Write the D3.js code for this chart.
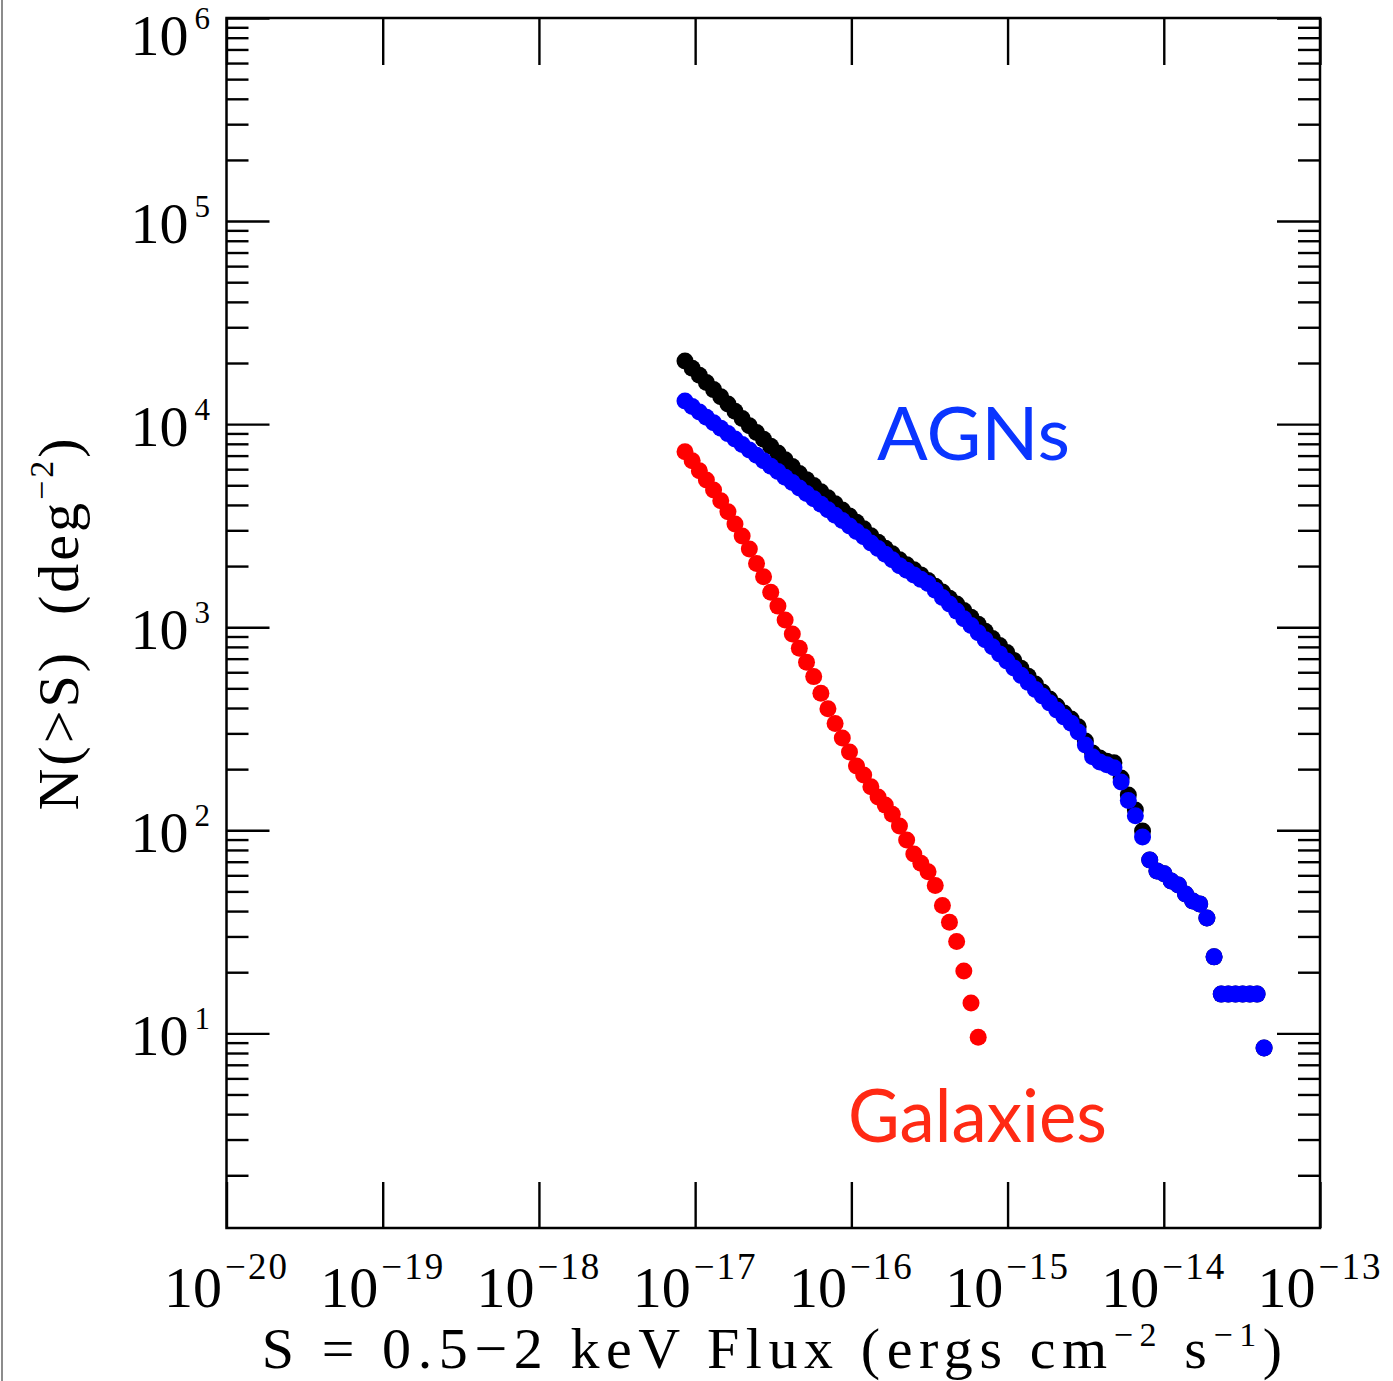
<!DOCTYPE html>
<html>
<head>
<meta charset="utf-8">
<script src="https://cdn.jsdelivr.net/npm/d3@7"></script>
<style>
  body { margin: 0; background: #fff; }
  svg { display: block; }
</style>
</head>
<body>
<div id="container"></div>
<script>
/* CONSTANTS AND GLOBALS */
const width = 1393,
      height = 1381,
      margin = {top: 18, bottom: 153, left: 226.5, right: 73},
      radius = 8.5;

const serif = "'Liberation Serif', 'Times New Roman', serif";
const sans = "Lato, 'Open Sans', sans-serif";

/* DATA */
// log10 of the 0.5-2 keV flux for each point
const logFlux = [
  -17.065, -17.019, -16.973, -16.928, -16.882, -16.836, -16.790, -16.745, -16.699, -16.653,
  -16.607, -16.562, -16.516, -16.470, -16.424, -16.378, -16.333, -16.287, -16.241, -16.195,
  -16.150, -16.104, -16.058, -16.012, -15.967, -15.921, -15.875, -15.829, -15.783, -15.738,
  -15.692, -15.646, -15.600, -15.555, -15.509, -15.463, -15.417, -15.372, -15.326, -15.280,
  -15.234, -15.188, -15.143, -15.097, -15.051, -15.005, -14.960, -14.914, -14.868, -14.822,
  -14.777, -14.731, -14.685, -14.639, -14.593, -14.548, -14.502, -14.456, -14.410, -14.365,
  -14.319, -14.273, -14.227, -14.182, -14.136, -14.090, -14.044, -13.998, -13.953, -13.907,
  -13.861, -13.815, -13.770, -13.724, -13.678, -13.632, -13.587, -13.541, -13.495, -13.449,
  -13.403, -13.358
];

// N(>S), all sources (black)
const totalN = [
  20450, 18850, 17390, 16030, 14790, 13640, 12560, 11570, 10660, 9810,
  9090, 8420, 7790, 7210, 6670, 6180, 5720, 5330, 4980, 4650,
  4340, 4050, 3780, 3530, 3290, 3050, 2820, 2620, 2450, 2300,
  2150, 2030, 1920, 1810, 1700, 1590, 1490, 1390, 1300, 1210,
  1120, 1035, 955, 880, 812, 750, 686, 628, 574, 525,
  480, 443, 409, 378, 353, 323, 275, 240, 227, 219,
  215, 181, 149, 126, 99.2, 71.4, 63.1, 61.0, 56.3, 53.8,
  48.6, 44.9, 43.4, 37.0, 23.8, 15.6, 15.6, 15.6, 15.6, 15.6,
  15.6, 8.47
];

// N(>S), AGNs (blue)
const agnN = [
  13000, 12220, 11490, 10800, 10160, 9550, 8980, 8450, 7940, 7460,
  7020, 6600, 6200, 5840, 5480, 5160, 4850, 4560, 4290, 4030,
  3790, 3560, 3350, 3150, 2960, 2790, 2600, 2440, 2290, 2150,
  2010, 1910, 1810, 1720, 1640, 1520, 1400, 1300, 1200, 1100,
  1020, 940, 867, 801, 739, 682, 629, 580, 535, 494,
  458, 424, 391, 361, 337, 305, 263, 230, 217, 210,
  203, 173, 140, 118, 92.7, 71.4, 63.1, 61.0, 56.3, 53.8,
  48.6, 44.9, 43.4, 37.0, 23.8, 15.6, 15.6, 15.6, 15.6, 15.6,
  15.6, 8.47
];

// N(>S), galaxies (red) - first 42 flux bins
const galaxyN = [
  7315, 6600, 5900, 5310, 4740, 4200, 3700, 3220, 2810, 2430,
  2060, 1770, 1485, 1270, 1085, 926, 787, 672, 571, 473,
  397, 336, 285, 243, 207, 187, 164, 146, 133, 120,
  105, 89.6, 76.4, 68.8, 62.5, 53.4, 42.6, 35.2, 28.3, 20.3,
  14.1, 9.57
];

const xTickExp = [-20, -19, -18, -17, -16, -15, -14, -13];
const yTickExp = [1, 2, 3, 4, 5, 6];

/* SCALES */
const xScale = d3.scaleLog()
  .domain([1e-20, 1e-13])
  .range([margin.left, width - margin.right]);

const yScale = d3.scaleLog()
  .domain([1.1, 1e6])
  .range([height - margin.bottom, margin.top]);

const xMajor = xTickExp.map(e => Math.pow(10, e));
const yMajor = yTickExp.map(e => Math.pow(10, e));
const yMinor = yScale.ticks().filter(t => {
  const l = Math.log10(t);
  return Math.abs(l - Math.round(l)) > 1e-6;
});

/* SVG */
const svg = d3.select("#container")
  .append("svg")
  .attr("width", width)
  .attr("height", height);

svg.append("rect")
  .attr("width", width)
  .attr("height", height)
  .attr("fill", "#fff");

// slide edge on the left
svg.append("line")
  .attr("x1", 2).attr("x2", 2)
  .attr("y1", 0).attr("y2", height)
  .attr("stroke", "#8c8c8c")
  .attr("stroke-width", 2);

/* AXES (ticks point inward) */
function styleAxis(g) {
  g.select(".domain").remove();
  g.selectAll("line").attr("stroke", "#000").attr("stroke-width", 2.4);
  g.selectAll("text").remove();
}

const xB = height - margin.bottom;
const xR = width - margin.right;

svg.append("g").attr("transform", `translate(0,${xB})`)
  .call(d3.axisBottom(xScale).tickValues(xMajor).tickSize(-46).tickFormat(""))
  .call(styleAxis);
svg.append("g").attr("transform", `translate(0,${margin.top})`)
  .call(d3.axisTop(xScale).tickValues(xMajor).tickSize(-47).tickFormat(""))
  .call(styleAxis);

svg.append("g").attr("transform", `translate(${margin.left},0)`)
  .call(d3.axisLeft(yScale).tickValues(yMajor).tickSize(-43).tickFormat(""))
  .call(styleAxis);
svg.append("g").attr("transform", `translate(${margin.left},0)`)
  .call(d3.axisLeft(yScale).tickValues(yMinor).tickSize(-22).tickFormat(""))
  .call(styleAxis);
svg.append("g").attr("transform", `translate(${xR},0)`)
  .call(d3.axisRight(yScale).tickValues(yMajor).tickSize(-43).tickFormat(""))
  .call(styleAxis);
svg.append("g").attr("transform", `translate(${xR},0)`)
  .call(d3.axisRight(yScale).tickValues(yMinor).tickSize(-22).tickFormat(""))
  .call(styleAxis);

// frame
svg.append("rect")
  .attr("x", margin.left)
  .attr("y", margin.top)
  .attr("width", xR - margin.left)
  .attr("height", xB - margin.top)
  .attr("fill", "none")
  .attr("stroke", "#000")
  .attr("stroke-width", 2.5);

/* TICK LABELS */
svg.selectAll("text.xlab")
  .data(xTickExp)
  .join("text")
  .attr("class", "xlab")
  .attr("x", d => xScale(Math.pow(10, d)))
  .attr("y", 1307)
  .attr("text-anchor", "middle")
  .style("font-family", serif)
  .style("font-size", "58px")
  .each(function(d) {
    const t = d3.select(this);
    t.append("tspan").text("10");
    t.append("tspan")
      .attr("dx", 3)
      .attr("dy", -28)
      .style("font-size", "37px")
      .style("letter-spacing", "2px")
      .text("\u2212" + Math.abs(d));
  });

svg.selectAll("text.ylab")
  .data(yTickExp)
  .join("text")
  .attr("class", "ylab")
  .attr("x", 210)
  .attr("y", d => Math.max(yScale(Math.pow(10, d)) + 22, 55))
  .attr("text-anchor", "end")
  .style("font-family", serif)
  .style("font-size", "58px")
  .each(function(d) {
    const t = d3.select(this);
    t.append("tspan").text("10");
    t.append("tspan")
      .attr("dx", 6)
      .attr("dy", -26)
      .style("font-size", "31px")
      .text(d);
  });

/* AXIS TITLES */
const xTitle = svg.append("text")
  .attr("x", (margin.left + xR) / 2 + 2)
  .attr("y", 1368)
  .attr("text-anchor", "middle")
  .style("font-family", serif)
  .style("font-size", "58px")
  .style("letter-spacing", "6.6px")
  .attr("xml:space", "preserve");
xTitle.append("tspan").text("S = 0.5\u22122 keV Flux (ergs cm");
xTitle.append("tspan").attr("dy", -22).style("font-size", "34px").text("\u22122");
xTitle.append("tspan").attr("dy", 22).text(" s");
xTitle.append("tspan").attr("dy", -22).style("font-size", "34px").text("\u22121");
xTitle.append("tspan").attr("dy", 22).text(")");

const yTitle = svg.append("text")
  .attr("transform", `translate(78,${(margin.top + xB) / 2}) rotate(-90)`)
  .attr("text-anchor", "middle")
  .style("font-family", serif)
  .style("font-size", "58px")
  .style("letter-spacing", "3px")
  .attr("xml:space", "preserve");
yTitle.append("tspan").text("N(>S)  (deg");
yTitle.append("tspan").attr("dy", -25).style("font-size", "34px").text("\u22122");
yTitle.append("tspan").attr("dy", 25).text(")");

/* POINTS */
const totalPts = logFlux.map((f, i) => ({f, n: totalN[i]}));
const agnPts = logFlux.map((f, i) => ({f, n: agnN[i]}));
const galPts = galaxyN.map((n, i) => ({f: logFlux[i], n}));

function drawDots(data, cls, color) {
  svg.selectAll("circle." + cls)
    .data(data)
    .join("circle")
    .attr("class", cls)
    .attr("cx", d => xScale(Math.pow(10, d.f)))
    .attr("cy", d => yScale(d.n))
    .attr("r", radius)
    .attr("fill", color);
}

drawDots(totalPts, "total", "#000000");
drawDots(agnPts, "agn", "#0000ff");
drawDots(galPts, "gal", "#ff0000");

/* CURVE LABELS */
svg.append("text")
  .attr("x", 877)
  .attr("y", 460)
  .attr("textLength", 193)
  .attr("lengthAdjust", "spacingAndGlyphs")
  .style("font-family", sans)
  .style("font-size", "74px")
  .attr("fill", "#0a35ff")
  .text("AGNs");

svg.append("text")
  .attr("x", 848)
  .attr("y", 1142)
  .attr("textLength", 259)
  .attr("lengthAdjust", "spacingAndGlyphs")
  .style("font-family", sans)
  .style("font-size", "74px")
  .attr("fill", "#ff2a14")
  .text("Galaxies");
</script>
</body>
</html>
